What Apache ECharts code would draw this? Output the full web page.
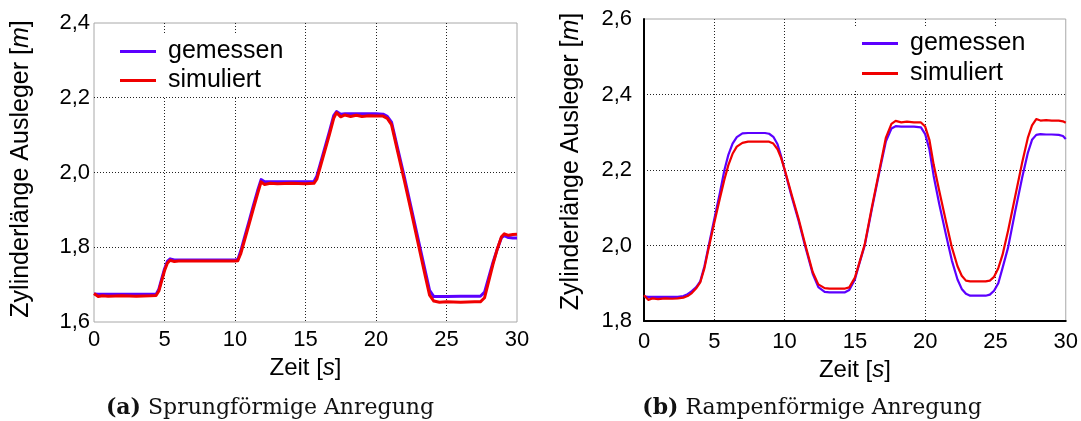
<!DOCTYPE html>
<html>
  <head>
    <meta charset="utf-8" />
    <title>Zylinderlänge Ausleger</title>
    <script src="https://cdn.jsdelivr.net/npm/echarts@6.0.0/dist/echarts.min.js"></script>
    <style>
      html, body { margin: 0; padding: 0; background: #fff; }
    </style>
  </head>
  <body>
    <div id="main" style="width: 1081px;height:421px;"></div>
    <script type="text/javascript">
// (a) step excitation
var tA = [0, 0.3, 0.6, 1, 2, 3, 4, 4.4, 4.6, 4.8,
  5.0, 5.2, 5.4, 5.7, 6, 7, 8, 9, 10, 10.2,
  10.4, 10.7, 11.0, 11.3, 11.6, 11.85, 12.1, 12.5, 13, 14,
  15, 15.6, 15.8, 16.1, 16.4, 16.7, 17.0, 17.2, 17.5, 17.8,
  18.2, 18.6, 19, 19.5, 20, 20.5, 20.8, 21.1, 21.5, 22,
  22.5, 23, 23.5, 23.8, 24.1, 24.5, 25, 26, 27, 27.4,
  27.7, 28.0, 28.3, 28.6, 28.9, 29.1, 29.4, 29.7, 30];
var measA = [1.675, 1.674, 1.674, 1.674, 1.674, 1.674, 1.674, 1.674, 1.688, 1.715,
  1.742, 1.762, 1.769, 1.766, 1.766, 1.766, 1.766, 1.766, 1.766, 1.767,
  1.789, 1.83, 1.87, 1.911, 1.951, 1.981, 1.975, 1.975, 1.975, 1.975,
  1.975, 1.976, 1.99, 2.03, 2.07, 2.11, 2.152, 2.163, 2.156, 2.157,
  2.157, 2.157, 2.157, 2.157, 2.157, 2.156, 2.15, 2.135, 2.07, 1.99,
  1.905, 1.82, 1.735, 1.685, 1.668, 1.668, 1.668, 1.669, 1.669, 1.669,
  1.68, 1.72, 1.76, 1.795, 1.826, 1.831, 1.826, 1.825, 1.825];
var simA = [1.676, 1.668, 1.67, 1.669, 1.67, 1.669, 1.67, 1.671, 1.683, 1.71,
  1.737, 1.757, 1.765, 1.762, 1.763, 1.763, 1.763, 1.763, 1.763, 1.764,
  1.782, 1.822, 1.862, 1.903, 1.943, 1.975, 1.968, 1.971, 1.97, 1.971,
  1.97, 1.971, 1.982, 2.022, 2.062, 2.102, 2.145, 2.16, 2.149, 2.154,
  2.15, 2.153, 2.15, 2.152, 2.151, 2.151, 2.145, 2.128, 2.062, 1.98,
  1.895, 1.808, 1.722, 1.672, 1.656, 1.653, 1.654, 1.653, 1.654, 1.654,
  1.665, 1.71, 1.755, 1.795, 1.828, 1.836, 1.832, 1.834, 1.835];

// (b) ramp excitation
var tB = [0, 0.3, 0.6, 1, 1.5, 2, 2.4, 2.8, 3.1, 3.4,
  3.7, 4.0, 4.3, 4.55, 5.0, 5.4, 5.72, 6.0, 6.3, 6.6,
  7.0, 7.4, 8.0, 8.6, 8.9, 9.2, 9.5, 9.75, 10.0, 10.5,
  11.0, 11.45, 12.0, 12.4, 12.85, 13.2, 13.8, 14.3, 14.6, 15.0,
  15.3, 15.7, 16.2, 16.77, 17.2, 17.6, 17.9, 18.3, 18.7, 19.2,
  19.7, 20.0, 20.3, 20.6, 21.0, 21.5, 21.9, 22.3, 22.6, 22.9,
  23.2, 23.8, 24.3, 24.6, 24.9, 25.2, 25.5, 25.9, 26.4, 26.9,
  27.3, 27.6, 27.9, 28.2, 28.6, 29.0, 29.5, 29.8, 30];
var measB = [1.865, 1.864, 1.864, 1.864, 1.864, 1.864, 1.864, 1.866, 1.871, 1.879,
  1.889, 1.905, 1.945, 1.99, 2.07, 2.14, 2.2, 2.24, 2.27, 2.287,
  2.297, 2.298, 2.298, 2.298, 2.296, 2.288, 2.268, 2.237, 2.2, 2.13,
  2.065, 2.0, 1.925, 1.89, 1.877, 1.876, 1.876, 1.876, 1.882, 1.91,
  1.95, 2.0, 2.095, 2.2, 2.275, 2.31, 2.316, 2.315, 2.315, 2.315,
  2.313, 2.295, 2.255, 2.185, 2.11, 2.025, 1.96, 1.91, 1.885, 1.872,
  1.867, 1.867, 1.867, 1.87, 1.88, 1.9, 1.94, 1.995, 2.09, 2.18,
  2.245, 2.28, 2.293, 2.295, 2.294, 2.294, 2.293, 2.29, 2.282];
var simB = [1.868, 1.856, 1.86, 1.858, 1.86, 1.859, 1.86, 1.862, 1.866, 1.874,
  1.886, 1.902, 1.94, 1.985, 2.06, 2.125, 2.175, 2.213, 2.243, 2.262,
  2.272, 2.275, 2.275, 2.275, 2.275, 2.27, 2.255, 2.232, 2.202, 2.135,
  2.07, 2.005, 1.93, 1.897, 1.887, 1.886, 1.886, 1.886, 1.889, 1.915,
  1.952, 2.003, 2.1, 2.205, 2.285, 2.322, 2.33, 2.326, 2.328, 2.326,
  2.326, 2.315, 2.28, 2.215, 2.145, 2.06, 1.995, 1.945, 1.92, 1.907,
  1.905, 1.905, 1.905, 1.907, 1.917, 1.94, 1.975, 2.04, 2.13, 2.22,
  2.285, 2.318, 2.335, 2.331, 2.332, 2.331, 2.331, 2.329, 2.325];

var captions = ['Sprungförmige Anregung', 'Rampenförmige Anregung'];

var blue = '#5c00ff';
var red = '#f00000';
var sans = 'Liberation Sans';

function pairs(t, v) {
  return t.map(function (x, i) { return [x, v[i]]; });
}
function comma(v) {
  return v.toFixed(1).replace('.', ',');
}

function xAxisCfg(idx, margin, black) {
  return {
    gridIndex: idx, type: 'value', min: 0, max: 30, interval: 5,
    name: 'Zeit [{i|s}]', nameLocation: 'middle', nameGap: 29,
    nameTextStyle: { fontFamily: sans, fontSize: 24, color: '#000',
      rich: { i: { fontFamily: sans, fontSize: 24, fontStyle: 'italic', color: '#000' } } },
    axisLine: { show: black, onZero: false, lineStyle: { color: '#000', width: 2 } },
    axisTick: { show: false },
    axisLabel: { fontFamily: sans, fontSize: 22, color: '#000', margin: margin },
    splitLine: { show: true, showMinLine: false, showMaxLine: false,
      lineStyle: { color: '#222', width: 1, type: [1, 2] } }
  };
}
function yAxisCfg(idx, min, max, margin, black, namePad, labelPad) {
  return {
    gridIndex: idx, type: 'value', min: min, max: max, interval: 0.2,
    name: 'Zylinderlänge Ausleger [{i|m}]', nameLocation: 'middle', nameGap: 60,
    nameTextStyle: { fontFamily: sans, fontSize: 25, color: '#000', padding: namePad,
      rich: { i: { fontFamily: sans, fontSize: 25, fontStyle: 'italic', color: '#000' } } },
    axisLine: { show: black, onZero: false, lineStyle: { color: '#000', width: 2 } },
    axisTick: { show: false },
    axisLabel: { fontFamily: sans, fontSize: 22, color: '#000', margin: margin,
      padding: labelPad, formatter: comma },
    splitLine: { show: true, showMinLine: false, showMaxLine: false,
      lineStyle: { color: '#222', width: 1, type: [1, 2] } }
  };
}
function legendCfg(left, top, gap) {
  return {
    orient: 'vertical', left: left, top: top, padding: [4, 10, 4, 10],
    backgroundColor: '#fff', itemWidth: 36, itemHeight: 3, itemGap: gap,
    icon: 'rect',
    textStyle: { fontFamily: sans, fontSize: 25, color: '#000', lineHeight: 25, padding: [0, 0, 0, 7] },
    data: [
      { name: 'gemessen', itemStyle: { color: blue } },
      { name: 'simuliert', itemStyle: { color: red } }
    ]
  };
}
function lineCfg(name, idx, t, v, color, width) {
  return {
    name: name, type: 'line', xAxisIndex: idx, yAxisIndex: idx,
    data: pairs(t, v), showSymbol: false, smooth: false,
    lineStyle: { color: color, width: width, join: 'round' }, itemStyle: { color: color }
  };
}
function captionCfg(letter, text, left) {
  return {
    text: '{b|(' + letter + ')} ' + text, left: left, top: 396, textAlign: 'center', padding: 0,
    textStyle: { fontFamily: 'DejaVu Serif', fontSize: 22, fontWeight: 'normal', color: '#111', lineHeight: 24,
      rich: { b: { fontFamily: 'DejaVu Serif', fontSize: 22, fontWeight: 'bold', color: '#111' } } }
  };
}

var myChart = echarts.init(document.getElementById('main'));
myChart.setOption({
  animation: false,
  backgroundColor: '#fff',
  title: [captionCfg('a', captions[0], 270), captionCfg('b', captions[1], 812)],
  legend: [legendCfg(110, 35, 4), legendCfg(852, 27, 5)],
  grid: [
    { left: 94, top: 23, width: 423, height: 299, show: true, borderColor: '#a8a8a8', borderWidth: 1 },
    { left: 644, top: 19, width: 422, height: 302, show: true, borderColor: '#a8a8a8', borderWidth: 1 }
  ],
  xAxis: [xAxisCfg(0, 7, false), xAxisCfg(1, 10, true)],
  yAxis: [yAxisCfg(0, 1.6, 2.4, 4, false, [0, 0, 0, 7], 0),
          yAxisCfg(1, 1.8, 2.6, 12, true, [0, 0, 0, 17], [4, 0, 0, 0])],
  series: [
    lineCfg('gemessen', 0, tA, measA, blue, 3),
    lineCfg('simuliert', 0, tA, simA, red, 3),
    lineCfg('gemessen', 1, tB, measB, blue, 2.2),
    lineCfg('simuliert', 1, tB, simB, red, 2.2)
  ]
});
    </script>
  </body>
</html>
